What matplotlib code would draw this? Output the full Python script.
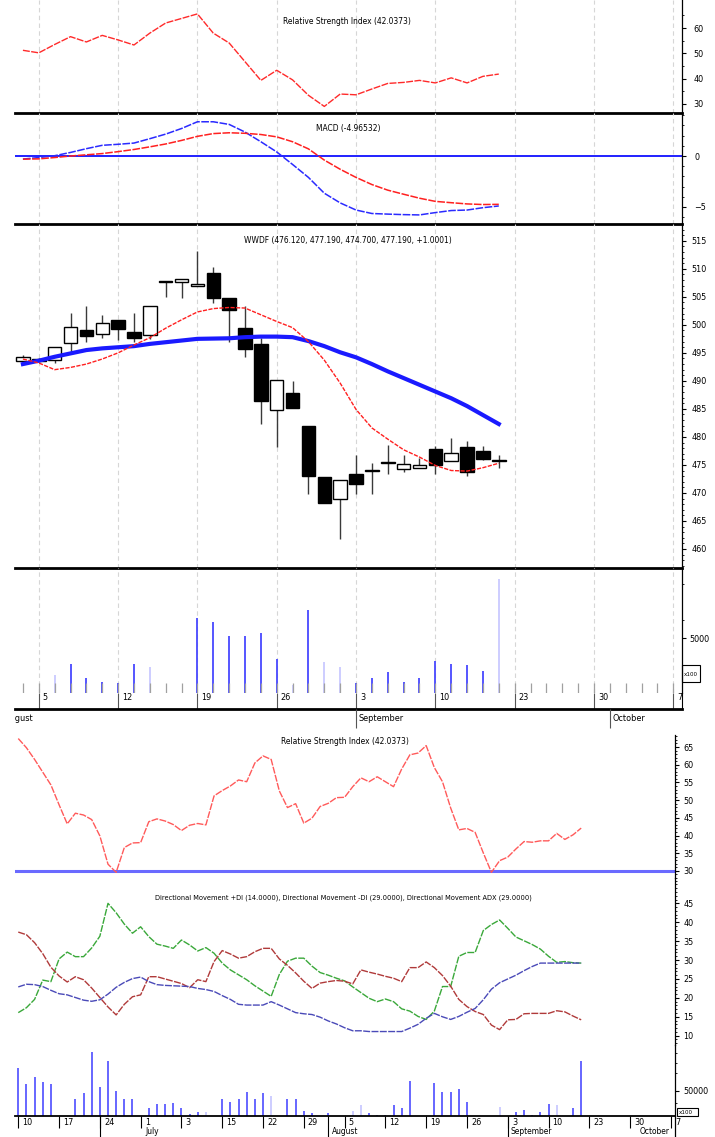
import numpy as np
import matplotlib.pyplot as plt
from matplotlib.patches import Rectangle

plt.rcParams['font.family'] = ['DejaVu Sans']
plt.rcParams['font.stretch'] = 'condensed'

W, H = 715, 1137

# ---------------- upper chart (last 31 sessions) ----------------
rsi_top = [51.2, 50.2, 53.5, 56.6, 54.5, 57.1, 55.3, 53.3, 58.0, 62.0, 63.8, 65.6, 58.0, 54.1, 46.7,
           39.3, 43.3, 39.5, 33.4, 29.0, 33.9, 33.6, 35.9, 38.1, 38.5, 39.3, 38.3, 40.3, 38.3, 40.9, 41.8]
macd_line = [-0.30, -0.15, 0.03, 0.35, 0.72, 1.05, 1.15, 1.27, 1.70, 2.15, 2.70, 3.36, 3.36, 3.10, 2.35,
             1.40, 0.40, -0.83, -2.10, -3.65, -4.60, -5.30, -5.64, -5.70, -5.75, -5.78, -5.55, -5.35,
             -5.30, -5.07, -4.90]
macd_signal = [-0.31, -0.28, -0.15, 0.00, 0.12, 0.24, 0.43, 0.64, 0.90, 1.18, 1.53, 1.93, 2.20, 2.28,
               2.23, 2.11, 1.88, 1.40, 0.70, -0.40, -1.30, -2.10, -2.80, -3.35, -3.75, -4.14, -4.45,
               -4.58, -4.70, -4.76, -4.74]
opens = [493.5, 493.9, 493.75, 496.7, 499.1, 498.3, 500.9, 498.8, 498.2, 507.6, 507.7, 507.0, 509.3,
         504.8, 499.4, 496.6, 484.8, 487.8, 482.0, 472.9, 469.0, 473.3, 474.0, 475.4, 474.2, 474.5,
         477.9, 475.7, 478.2, 477.5, 475.7]
closes = [494.3, 493.5, 496.1, 499.7, 498.0, 500.3, 499.3, 497.6, 503.3, 507.9, 508.2, 507.3, 504.8,
          502.7, 495.7, 486.4, 490.1, 485.2, 473.1, 468.2, 472.3, 471.6, 474.1, 475.6, 475.1, 474.9,
          475.0, 477.2, 473.7, 476.0, 475.9]
highs = [494.6, 494.0, 496.1, 502.1, 503.3, 501.8, 500.9, 502.1, 503.3, 507.9, 508.2, 513.1, 510.4,
         504.8, 503.3, 497.6, 490.1, 489.9, 482.0, 472.9, 472.3, 476.8, 475.3, 478.6, 476.8, 476.2,
         478.3, 479.8, 479.2, 478.3, 476.8]
lows = [493.2, 493.3, 493.2, 494.9, 497.0, 497.6, 497.3, 497.0, 497.4, 504.9, 504.8, 506.9, 503.9,
        497.0, 494.3, 482.3, 478.2, 485.2, 469.8, 468.2, 461.7, 469.8, 469.8, 473.3, 473.8, 474.5,
        473.3, 475.7, 473.1, 475.9, 474.4]
ma_slow = [493.0, 493.6, 494.3, 494.9, 495.5, 495.8, 496.0, 496.2, 496.6, 496.9, 497.2, 497.5, 497.55,
           497.6, 497.8, 497.9, 497.9, 497.8, 497.1, 496.2, 495.1, 494.2, 493.0, 491.7, 490.5, 489.3,
           488.1, 486.9, 485.5, 483.9, 482.3]
ma_fast = [493.9, 493.2, 492.0, 492.4, 493.0, 493.9, 495.0, 496.4, 497.7, 499.4, 500.9, 502.3, 502.9,
           503.1, 503.0, 501.8, 500.6, 499.5, 497.0, 493.7, 489.6, 484.9, 481.6, 479.6, 477.7, 476.4,
           474.9, 474.0, 473.9, 474.5, 475.3]
vol_top = [0, 0, 1640, 2640, 1360, 1000, 910, 2640, 2360, 0, 0, 6820, 6450, 5180, 5180, 5450, 3090,
           730, 7550, 2820, 2360, 910, 1360, 1910, 1000, 1360, 2910, 2640, 2550, 2000, 10360]
faint_top = [2, 8, 17, 19, 20, 30]
weeks_top = ["5", "12", "19", "26", "3", "10", "23", "30", "7"]

# ---------------- lower chart (70 sessions) ----------------
rsi_low = [67.4, 64.8, 61.5, 57.9, 54.3, 48.7, 43.3, 46.3, 45.8, 44.5,
           39.9, 31.9, 29.6, 36.6, 37.9, 38.0, 43.9, 44.7, 44.1, 43.1,
           41.4, 42.9, 43.4, 43.0, 51.2, 52.7, 54.0, 55.7, 55.2, 60.5,
           62.5, 61.5, 52.6, 47.9, 49.0, 43.5, 44.9, 48.2, 49.1, 50.7,
           50.8, 53.8, 56.3, 55.2, 56.6, 55.2, 53.8, 58.8, 62.8, 63.3,
           65.4, 59.2, 55.2, 47.8, 41.6, 42.0, 40.9, 35.1, 29.6, 32.9,
           33.9, 36.2, 38.3, 38.1, 38.5, 38.5, 40.6, 38.9, 40.2, 42.1]
plus_di = [37.4, 36.7, 34.6, 31.7, 28.1, 25.8, 24.2, 25.6, 24.8, 22.6,
           20.1, 17.6, 15.5, 18.3, 20.3, 20.8, 25.6, 25.6, 25.0, 24.4,
           23.8, 22.7, 24.8, 24.3, 29.6, 32.5, 31.6, 30.5, 30.9, 32.2,
           33.1, 33.1, 30.3, 28.6, 26.6, 24.4, 22.5, 23.9, 24.3, 24.6,
           24.4, 23.7, 27.4, 26.8, 26.3, 25.7, 25.2, 24.3, 28.0, 28.0,
           29.5, 28.0, 25.9, 23.1, 19.6, 17.7, 16.4, 15.6, 12.8, 11.6,
           14.2, 14.3, 15.8, 15.9, 15.9, 15.9, 16.6, 16.3, 15.2, 14.2]
minus_di = [16.1, 17.4, 19.6, 24.7, 24.3, 30.3, 32.1, 30.9, 30.9, 33.2,
            36.3, 45.0, 42.5, 39.5, 37.1, 38.8, 36.2, 34.2, 33.7, 33.1,
            35.3, 34.0, 32.4, 33.3, 31.8, 29.2, 27.4, 26.1, 24.8, 23.2,
            21.8, 20.4, 26.2, 29.7, 30.5, 30.5, 28.4, 26.7, 26.0, 25.2,
            24.5, 22.9, 21.4, 19.9, 19.0, 19.7, 19.0, 17.1, 16.5, 15.1,
            14.3, 16.5, 23.0, 23.0, 31.0, 32.0, 32.0, 37.8, 39.4, 40.6,
            38.4, 36.1, 35.1, 34.1, 32.9, 31.0, 29.4, 29.6, 29.3, 29.2]
adx = [22.9, 23.6, 23.5, 23.0, 22.0, 21.1, 20.8, 20.1, 19.4, 19.1,
       19.5, 21.0, 22.8, 24.1, 25.1, 25.5, 24.3, 23.5, 23.3, 23.2,
       23.1, 23.0, 22.5, 22.2, 21.7, 20.6, 19.6, 18.3, 18.1, 18.1,
       18.1, 19.0, 18.1, 17.1, 16.1, 15.8, 15.6, 14.9, 13.9, 13.1,
       12.1, 11.3, 11.3, 11.1, 11.1, 11.1, 11.1, 11.1, 12.0, 13.0,
       14.6, 15.9, 15.0, 14.3, 15.1, 16.2, 17.2, 19.5, 22.3, 24.0,
       25.0, 26.0, 27.2, 28.3, 29.2, 29.2, 29.2, 29.2, 29.2, 29.2]
vol_low = [94300, 63200, 76500, 67800, 63200, 0, 0, 33000, 46100, 127100,
           56700, 109300, 50000, 33000, 33000, 0, 15200, 23700, 23700, 26300,
           15200, 4000, 7300, 8500, 0, 33000, 28300, 33000, 48000, 33000,
           46100, 39500, 0, 33000, 33000, 9900, 5300, 0, 6500, 0,
           0, 9900, 21700, 6500, 2000, 2000, 21700, 16400, 69200, 0,
           0, 65800, 48000, 48000, 53400, 27000, 0, 0, 0, 17200,
           0, 7300, 11900, 2000, 7300, 23700, 21700, 0, 15200, 109300]
faint_low = [23, 31, 41, 42, 59, 66]
weeks_low = ["10", "17", "24", "1", "3", "15", "22", "29", "5", "12", "19", "26", "3", "10", "23", "30", "7"]


def px_box(left, top, right, bottom):
    return [left / W, 1 - bottom / H, (right - left) / W, (bottom - top) / H]


def right_axis(ax, pad, size=7):
    for side in ('left', 'top', 'bottom'):
        ax.spines[side].set_visible(False)
    ax.spines['right'].set_linewidth(0.9)
    ax.yaxis.tick_right()
    ax.tick_params(axis='y', which='major', length=3, width=0.8, labelsize=size, pad=pad)
    ax.tick_params(axis='y', which='minor', length=1.5, width=0.6)
    ax.set_xticks([])
    ax.patch.set_alpha(0)


fig = plt.figure(figsize=(W / 100, H / 100), dpi=100)

days = np.arange(len(closes))
xlim_top = (-0.5, 41.55)
grid_days = np.arange(1, 42, 5)

ax_rsi = fig.add_axes(px_box(15, 0, 682, 113))
ax_macd = fig.add_axes(px_box(15, 113, 682, 224))
ax_px = fig.add_axes(px_box(15, 224, 682, 568))
ax_vol = fig.add_axes(px_box(15, 568, 682, 693))
ax_dt = fig.add_axes(px_box(15, 693, 682, 709))
ax_mo = fig.add_axes(px_box(15, 709, 682, 735))

for ax in (ax_rsi, ax_macd, ax_px, ax_vol):
    ax.set_xlim(*xlim_top)
    for g in grid_days:
        ax.axvline(g, color='#d6d6d6', lw=0.8, ls=(0, (4, 3)), zorder=0)

# RSI (top)
right_axis(ax_rsi, pad=5, size=6.5)
ax_rsi.plot(days, rsi_top, color='#ff2a2a', lw=1.0, ls=(0, (5, 1)))
ax_rsi.set_ylim(26.4, 71.1)
ax_rsi.set_yticks([30, 40, 50, 60])
ax_rsi.set_yticks([35, 45, 55, 65], minor=True)
ax_rsi.spines['bottom'].set_visible(True)
ax_rsi.spines['bottom'].set_linewidth(2)

# MACD
right_axis(ax_macd, pad=6, size=6.5)
ax_macd.axhline(0, color='#2020ff', lw=1.4)
ax_macd.plot(days, macd_line, color='#2a2aff', lw=1.1, ls=(0, (5, 1)))
ax_macd.plot(days, macd_signal, color='#ff2020', lw=1.1, ls=(0, (5, 1)))
ax_macd.set_ylim(-6.67, 4.22)
ax_macd.set_yticks([-5, 0])
ax_macd.set_yticks(np.arange(-6, 5), minor=True)
ax_macd.spines['bottom'].set_visible(True)
ax_macd.spines['bottom'].set_linewidth(2)

# Price candles
right_axis(ax_px, pad=4, size=6.5)
o = np.array(opens)
c = np.array(closes)
ax_px.vlines(days, lows, highs, color='#3a3a3a', lw=1.0, zorder=2)
body = np.maximum(np.abs(c - o), 0.15)
ax_px.bar(days, body, bottom=np.minimum(o, c), width=0.85,
          color=np.where(c >= o, 'white', 'black'), edgecolor='black', lw=1.0, zorder=3)
ax_px.plot(days, ma_slow, color='#1a1aff', lw=3.0, zorder=4)
ax_px.plot(days, ma_fast, color='#ff2020', lw=1.0, ls=(0, (3, 1)), zorder=4)
ax_px.set_ylim(456.6, 518.0)
ax_px.set_yticks(np.arange(460, 516, 5))
ax_px.set_yticks(np.arange(457, 518, 1), minor=True)
ax_px.spines['bottom'].set_visible(True)
ax_px.spines['bottom'].set_linewidth(2)

# Volume (top)
right_axis(ax_vol, pad=2, size=6.5)
vcol = ['#c9c9ff' if i in faint_top else '#4848ff' for i in days]
ax_vol.vlines(days, 0, vol_top, colors=vcol, lw=1.3, zorder=2)
ax_vol.vlines(np.arange(42), 0, 900, colors='#a0a0a0', lw=0.9, zorder=3)
ax_vol.set_ylim(0, 11364)
ax_vol.set_yticks([5000])
ax_vol.set_yticks([6600, 9900], minor=True)

# date strip (top)
for ax in (ax_dt, ax_mo):
    ax.set_xlim(*xlim_top)
    ax.set_ylim(0, 1)
    ax.set_xticks([])
    ax.set_yticks([])
    for side in ('left', 'top', 'bottom', 'right'):
        ax.spines[side].set_visible(False)
    ax.patch.set_alpha(0)
ax_dt.spines['right'].set_visible(True)
ax_dt.spines['bottom'].set_visible(True)
ax_dt.spines['bottom'].set_linewidth(2)
ax_dt.vlines(grid_days, 0, 1, color='#555555', lw=0.8)
for g, lab in zip(grid_days, weeks_top):
    ax_dt.text(g + 0.25, 0.72, lab, fontsize=6.5, va='center', ha='left')
ax_mo.vlines([21, 37], 0.27, 1, color='#555555', lw=0.8)
for pos, lab in [(-1.15, "August"), (21.15, "September"), (37.15, "October")]:
    ax_mo.text(pos, 0.64, lab, fontsize=6.5, va='center', ha='left', clip_on=True)

# titles (top)
fig.text(347 / W, 1 - 22 / H, "Relative Strength Index (42.0373)", fontsize=6, ha='center', va='center')
fig.text(348 / W, 1 - 128 / H, "MACD (-4.96532)", fontsize=6, ha='center', va='center')
fig.text(348 / W, 1 - 241 / H, "WWDF (476.120, 477.190, 474.700, 477.190, +1.0001)",
         fontsize=6, ha='center', va='center')
fig.add_artist(Rectangle((682 / W, 1 - 682 / H), 18 / W, 17 / H, transform=fig.transFigure,
                         fill=False, lw=0.8, ec='black'))
fig.text(684 / W, 1 - 674 / H, "x100", fontsize=4.5, va='center', ha='left')

# ---------------- lower chart ----------------
jd = np.arange(len(rsi_low))
xlim_low = (-0.4, 80.5)
week_pos = np.arange(0, 81, 5)

ax_r2 = fig.add_axes(px_box(15, 735, 675, 878))
ax_dmi = fig.add_axes(px_box(15, 878, 675, 1045))
ax_v2 = fig.add_axes(px_box(15, 1045, 675, 1116))
ax_d2 = fig.add_axes(px_box(15, 1116, 675, 1137))

for ax in (ax_r2, ax_dmi, ax_v2):
    ax.set_xlim(*xlim_low)
    right_axis(ax, pad=3, size=6.5)

ax_r2.axhline(30, color='#6a6aff', lw=2.2)
ax_r2.plot(jd, rsi_low, color='#ff5a5a', lw=1.0, ls=(0, (5, 1)))
ax_r2.set_ylim(28.0, 68.4)
ax_r2.set_yticks(np.arange(30, 66, 5))
ax_r2.set_yticks(np.arange(28, 69, 1), minor=True)

ax_dmi.plot(jd, minus_di, color='#3aa83a', lw=1.0, ls=(0, (5, 1)))
ax_dmi.plot(jd, plus_di, color='#b03a3a', lw=1.0, ls=(0, (5, 1)))
ax_dmi.plot(jd, adx, color='#4a4ab8', lw=1.0, ls=(0, (5, 1)))
ax_dmi.set_ylim(7.54, 51.7)
ax_dmi.set_yticks(np.arange(10, 46, 5))
ax_dmi.set_yticks(np.arange(8, 52, 1), minor=True)

vcol2 = ['#c9c9ff' if j in faint_low else '#5a5aff' for j in jd]
ax_v2.vlines(jd, 0, vol_low, colors=vcol2, lw=1.3)
ax_v2.set_ylim(0, 140300)
ax_v2.set_yticks([50000])
ax_v2.set_yticks([25000, 85000, 105000, 125000], minor=True)

ax_d2.set_xlim(*xlim_low)
ax_d2.set_ylim(0, 1)
ax_d2.set_xticks([])
ax_d2.set_yticks([])
for side in ('left', 'bottom'):
    ax_d2.spines[side].set_visible(False)
ax_d2.spines['top'].set_linewidth(1.3)
ax_d2.spines['right'].set_linewidth(0.9)
ax_d2.patch.set_alpha(0)
ax_d2.vlines(week_pos, 0.43, 1, color='black', lw=0.8)
ax_d2.vlines([10, 38, 60], 0, 1, color='black', lw=0.8)
for g, lab in zip(week_pos, weeks_low):
    ax_d2.text(g + 0.5, 0.71, lab, fontsize=6.5, va='center', ha='left')
for pos, lab in [(15.6, "July"), (38.5, "August"), (60.3, "September"), (76.2, "October")]:
    ax_d2.text(pos, 0.03, lab, fontsize=6, va='bottom', ha='left')

fig.text(345 / W, 1 - 741 / H, "Relative Strength Index (42.0373)", fontsize=6, ha='center', va='center')
fig.text(343 / W, 1 - 898 / H,
         "Directional Movement +DI (14.0000), Directional Movement -DI (29.0000), "
         "Directional Movement ADX (29.0000)", fontsize=5.3, ha='center', va='center')
fig.add_artist(Rectangle((677 / W, 1 - 1116 / H), 21 / W, 8 / H, transform=fig.transFigure,
                         fill=False, lw=0.8, ec='black'))
fig.text(679 / W, 1 - 1112 / H, "x100", fontsize=4.5, va='center', ha='left')

fig.savefig("out.png", dpi=100)
